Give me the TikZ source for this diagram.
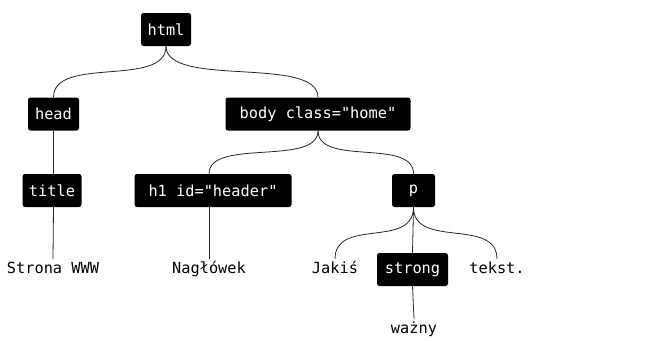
\documentclass[tikz,border=0pt]{standalone}
\usepackage{fontspec}
\setmonofont{DejaVu Sans Mono}
\begin{document}
\begin{tikzpicture}[x=1pt,y=-1pt,
  tag/.style={fill=black,text=white,rounded corners=2.5pt,minimum height=33pt,inner sep=0pt,font=\ttfamily\fontsize{15.3}{17}\selectfont},
  txt/.style={inner sep=4pt,text height=10.5pt,text depth=3pt,font=\ttfamily\fontsize{15.3}{17}\selectfont},
  link/.style={draw=black!85,line width=0.8pt}]
\useasboundingbox (0,0) rectangle (655,340);
\node[tag,minimum width=50pt] (html) at (166,29.5) {html};
\node[tag,minimum width=51pt] (head) at (53.5,114) {head};
\node[tag,minimum width=185pt] (body) at (318,114) {body class="home"};
\node[tag,minimum width=59pt] (title) at (52,190.5) {title};
\node[tag,minimum width=157pt] (h1) at (213,190.5) {h1 id="header"};
\node[tag,minimum width=43pt] (p) at (413.5,190.5) {p};
\node[tag,minimum width=71pt] (strong) at (412.5,269.5) {strong};
\node[txt] (strona) at (53,270) {Strona WWW};
\node[txt] (nag) at (209,270) {Nagłówek};
\node[txt] (jakis) at (335,270) {Jakiś};
\node[txt] (tekst) at (497,270) {tekst.};
\node[txt] (wazny) at (414,330) {ważny};
% connectors
\draw[link] (html.south) .. controls +(0,42) and +(0,-42) .. (head.north);
\draw[link] (html.south) .. controls +(0,42) and +(0,-42) .. (body.north);
\draw[link] (head.south) -- (title.north -| head.south);
\draw[link] (title.south -| head.south) -- (strona.north);
\draw[link] (body.south) .. controls +(0,36) and +(0,-36) .. (h1.north -| nag.north);
\draw[link] (body.south) .. controls +(0,36) and +(0,-36) .. (p.north);
\draw[link] (h1.south -| nag.north) -- (nag.north);
\draw[link] (p.south) .. controls +(0,42) and +(0,-42) .. (jakis.north);
\draw[link] (p.south) .. controls +(0,42) and +(0,-42) .. (tekst.north);
\draw[link] (p.south) -- (strong.north);
\draw[link] (strong.south) -- (wazny.north);
\end{tikzpicture}
\end{document}
